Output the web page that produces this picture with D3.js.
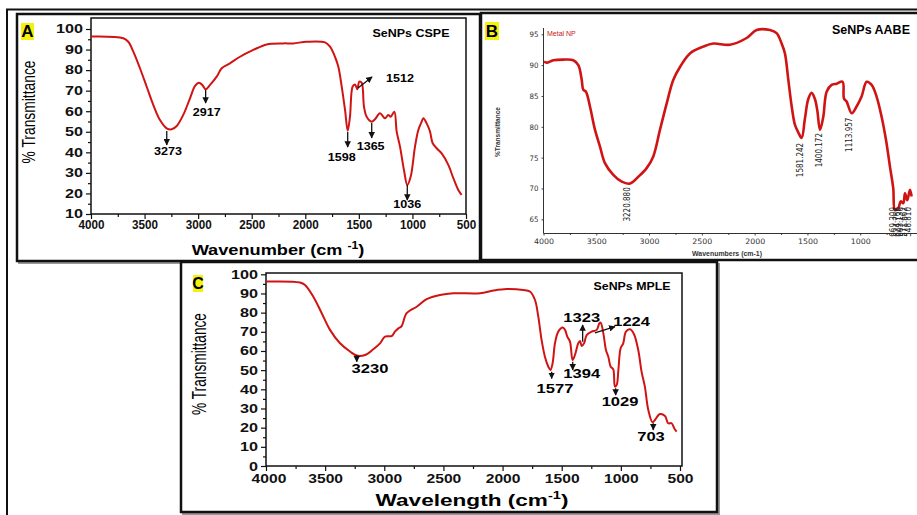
<!DOCTYPE html>
<html>
<head>
<meta charset="utf-8">
<script src="https://cdn.jsdelivr.net/npm/d3@7"></script>
<style>
  body { margin: 0; background: #fff; }
</style>
</head>
<body>
<svg id="fig" width="917" height="515"></svg>
<script>
// ---- panel A : SeNPs CSPE ----
var aWave = [4003,3698,3652,3605,3543,3480,3418,3356,3294,3247,3200,3139,3076,3029,2992,2961,2930,2889,2827,2780,2703,2609,2485,2360,2205,2112,1987,1816,1769,1723,1692,1660,1629,1604,1583,1558,1536,1514,1496,1474,1452,1427,1380,1349,1303,1256,1225,1203,1169,1147,1116,1079,1048,1016,976,945,914,898,867,836,811,774,727,665,618,572,541];
var aTrans = [96.3,95.5,93.8,89,80.9,71.9,63,55.7,51.7,51.2,52.8,58.2,66.3,72.3,73.9,72.8,70.7,72.8,76.8,80.9,83.3,86.5,89.8,92.5,93,93,93.8,93.5,91.4,86.5,81.7,72,60.6,50.5,57.3,72,73,70.7,74.4,73.9,62.2,57.3,54.9,56.1,59,56.6,58.2,57.3,59.8,50.1,42.8,31.4,24.1,28.2,42.8,50.9,54.9,56.6,54.1,50.1,44.4,42,39.5,33.9,27.4,21.7,19.3];
var aYTicks = [10,20,30,40,50,60,70,80,90,100];
// peak label, arrow start (wave, T), arrow end (wave, T), label anchor (wave, T)
var aPeaks = [
  ["3273", 3293, 50.4, 3293, 43.6, 3281, 38.7],
  ["2917", 2930, 70.3, 2930, 64.0, 2920, 57.7],
  ["1598", 1604, 49.9, 1604, 42.6, 1660, 35.8],
  ["1365", 1380, 54.3, 1380, 47.0, 1390, 41.1],
  ["1036", 1048, 24.1, 1048, 16.8, 1048, 12.9],
  ["1512", 1508, 71.3, 1377, 76.7, 1116, 74.2]
];

// ---- panel B : SeNPs AABE ----
var bWave = [3995,3970,3907,3812,3718,3670,3638,3623,3598,3560,3512,3465,3418,3339,3259,3181,3102,3023,2960,2897,2833,2771,2707,2613,2487,2392,2234,2076,1981,1855,1792,1744,1713,1681,1649,1618,1587,1555,1524,1492,1460,1429,1407,1381,1350,1318,1271,1223,1167,1154,1129,1081,1034,987,939,892,845,797,756,718,687,671,639,617,592,576,554,529,513];
var bTrans = [90.6,90.4,90.8,90.9,90.8,90,87.6,86,85.7,83.3,79.5,76.8,74.1,72.2,71.1,70.8,71.9,73.3,75.2,79.5,83.8,87.6,89.7,91.9,93,93.5,93.3,94.4,95.7,95.7,95.2,93.5,91.9,87.6,83.3,80.3,79.1,78.2,81.3,84.5,85.5,84.5,82.7,79.5,81.6,85.7,86.8,87,87.3,84.6,84.1,82.2,83.3,84.9,87.3,86.8,84.9,81.6,77.9,73.5,70,66.5,66.8,67.9,67.6,69.2,68.1,69.8,68.7];
var bYTicks = [65,70,75,80,85,90,95];
// peak label, wave, T at top of label
var bPeaks = [
  ["3220.880", 3210, 70.2],
  ["1581.242", 1575, 77.4],
  ["1400.172", 1392, 79.0],
  ["1113.957", 1103, 81.5],
  ["669.309", 690, 67.0],
  ["624.766", 655, 67.0],
  ["603.136", 620, 67.0],
  ["571.662", 585, 67.0],
  ["548.810", 552, 67.0]
];

// ---- panel C : SeNPs MPLE ----
var cWave = [4000,3713,3670,3600,3529,3459,3374,3290,3233,3163,3093,3036,2994,2938,2910,2881,2853,2811,2726,2642,2529,2416,2191,2078,1965,1825,1769,1726,1698,1670,1642,1613,1595,1577,1557,1529,1492,1472,1453,1430,1408,1388,1360,1345,1331,1311,1289,1247,1204,1182,1171,1148,1126,1106,1086,1064,1050,1035,1021,1002,980,957,923,890,853,825,797,768,732,712,670,627,600,571,549,529];
var cTrans = [96.2,95.7,94.4,88.3,79.7,71,64,59.7,57.6,57.9,60.9,64,67.5,67.8,70.1,71.8,73,79.7,83.1,87,89.2,90.1,90.1,91.5,92.3,91.8,91,86.6,77.9,65.7,57,51.8,50.1,53.6,64,70.1,72.2,71,67.5,64.9,55.3,57.9,64,65.2,62.6,64,68.3,70.1,71,74.4,74.8,69.2,60.5,57,51.8,50.4,41.4,42.3,50.1,61.4,64,70.1,71.3,68.9,60.5,49.2,41.4,29.2,22.8,24,27.1,26.1,22.3,22.3,19.7,17.9];
var cYTicks = [0,10,20,30,40,50,60,70,80,90,100];
var cPeaks = [
  ["3230", 3233, 57.9, 3233, 54.4, 3121, 48.5],
  ["1577", 1585, 49.2, 1585, 45.7, 1557, 38.0],
  ["1394", 1407, 54.4, 1407, 50.1, 1331, 45.9],
  ["1323", 1323, 64.8, 1323, 73.6, 1331, 75.1],
  ["1224", 1219, 69.5, 1050, 72.7, 909, 73.0],
  ["1029", 1044, 40.5, 1044, 37.0, 1007, 31.3],
  ["703", 726, 22.3, 726, 18.8, 745, 13.0]
];

var xTicks = [4000,3500,3000,2500,2000,1500,1000,500];
var xMinor = [3750,3250,2750,2250,1750,1250,750];

var svg = d3.select("#fig");
var FONT = "Liberation Sans, Arial, sans-serif";
var RED = "#d01414";

svg.append("defs").append("marker")
    .attr("id","arrow").attr("viewBox","0 0 10 10")
    .attr("refX",9).attr("refY",5)
    .attr("markerWidth",5).attr("markerHeight",5)
    .attr("orient","auto")
  .append("path").attr("d","M0,0L10,5L0,10z").attr("fill","#111");

// text with horizontal stretch to a target width
function label(p, x, y, str, o){
    var g = p.append("g").attr("transform","translate("+x+","+y+")"+(o.rot?" rotate("+o.rot+")":""));
    var t = g.append("text")
        .attr("text-anchor", o.anchor || "middle")
        .attr("font-family", o.font || FONT)
        .attr("font-size", o.size)
        .attr("font-weight", o.bold ? "bold" : "normal")
        .attr("fill", o.fill || "#000");
    if (Array.isArray(str)) {
        str.forEach(function(s){
            var ts = t.append("tspan").text(s[0]);
            if (s[1]) ts.attr("dy", s[1]);
            if (s[2]) ts.attr("font-size", s[2]);
        });
    } else t.text(str);
    if (o.w) {
        var n = t.node().getComputedTextLength();
        t.attr("transform","scale("+(o.w/n)+",1)");
    }
    return t;
}

function squeeze(axisG, perChar){
    axisG.selectAll("text").each(function(){
        var t = d3.select(this);
        var n = this.getComputedTextLength();
        var s = perChar * t.text().length / n;
        t.attr("x", (+t.attr("x") || 0) / s).attr("transform","scale("+s+",1)");
    });
}

function tag(x, y, w, h, letter, size){
    svg.append("rect").attr("x",x).attr("y",y).attr("width",w).attr("height",h).attr("fill","#f4f20c");
    label(svg, x + w/2, y + h - 3, letter, {size:size, bold:true});
}

function curve(p, xs, ys, wv, tr, width){
    var pts = d3.zip(wv, tr);
    p.append("path").datum(pts)
        .attr("fill","none").attr("stroke",RED).attr("stroke-width",width)
        .attr("stroke-linejoin","round")
        .attr("d", d3.line().x(function(d){return xs(d[0]);}).y(function(d){return ys(d[1]);})
            .curve(d3.curveCatmullRom.alpha(0.5)));
}

function arrows(p, xs, ys, peaks, o){
    peaks.forEach(function(k){
        p.append("line")
            .attr("x1", xs(k[1])).attr("y1", ys(k[2]))
            .attr("x2", xs(k[3])).attr("y2", ys(k[4]))
            .attr("stroke", o.color || "#111").attr("stroke-width", 1.3)
            .attr("marker-end","url(#arrow)");
        label(p, xs(k[5]), ys(k[6]), k[0], {size:o.size, bold:true, w:o.cw * k[0].length});
    });
}

// ---- frames ----
svg.append("rect").attr("x",7).attr("y",9.5).attr("width",1000).attr("height",1000)
    .attr("fill","none").attr("stroke","#111").attr("stroke-width",2);
svg.append("rect").attr("x",19).attr("y",16).attr("width",463).attr("height",247)
    .attr("fill","none").attr("stroke","#999").attr("stroke-width",2);
svg.append("rect").attr("x",17).attr("y",14).attr("width",463).attr("height",247)
    .attr("fill","#fff").attr("stroke","#111").attr("stroke-width",2.5);
svg.append("rect").attr("x",481).attr("y",13).attr("width",500).attr("height",247)
    .attr("fill","#fff").attr("stroke","#111").attr("stroke-width",2.5);
svg.append("rect").attr("x",183).attr("y",264).attr("width",536).attr("height",250)
    .attr("fill","none").attr("stroke","#999").attr("stroke-width",2);
svg.append("rect").attr("x",181).attr("y",262).attr("width",536).attr("height",250)
    .attr("fill","#fff").attr("stroke","#111").attr("stroke-width",2.5);

// ================= panel A =================
(function(){
    var g = svg.append("g");
    var x = d3.scaleLinear().domain([4000,500]).range([91,466]);
    var y = d3.scaleLinear().domain([10,100]).range([214,29]);

    var xa = g.append("g").attr("transform","translate(0,214)")
        .call(d3.axisBottom(x).tickValues(xTicks).tickSize(5).tickPadding(1).tickFormat(d3.format("d")));
    g.append("g").attr("transform","translate(0,214)")
        .call(d3.axisBottom(x).tickValues(xMinor).tickSize(3).tickFormat(""));
    var ya = g.append("g").attr("transform","translate(91,0)")
        .call(d3.axisLeft(y).tickValues(aYTicks).tickSize(5).tickPadding(3));
    g.append("g").attr("transform","translate(91,0)")
        .call(d3.axisLeft(y).tickValues(d3.range(15,100,10)).tickSize(3).tickFormat(""));
    g.selectAll(".domain").remove();
    g.selectAll(".tick line").attr("stroke","#111").attr("stroke-width",1.2);
    g.selectAll("text").attr("font-family",FONT).attr("font-size",12).attr("font-weight","bold").attr("fill","#111");
    squeeze(xa, 6.5);
    squeeze(ya, 9);

    g.append("rect").attr("x",91).attr("y",18).attr("width",375).attr("height",196)
        .attr("fill","none").attr("stroke","#111").attr("stroke-width",1.5);

    curve(g, x, y, aWave, aTrans, 2);
    arrows(g, x, y, aPeaks, {size:11, cw:7});

    label(g, 411, 37, "SeNPs CSPE", {size:11.5, bold:true, w:77});
    label(g, 278, 255, [["Wavenumber (cm "],["-1","-6",10],[")","6"]], {size:15, bold:true, w:173});
    label(g, 35, 112, "% Transmittance", {size:18, rot:-90, w:103});
    tag(21, 23, 13, 17, "A", 17);
})();

// ================= panel B =================
(function(){
    var g = svg.append("g");
    var x = d3.scaleLinear().domain([4000,500]).range([543.5,913]);
    var y = d3.scaleLinear().domain([65,95]).range([219.3,34.3]);

    var xa = g.append("g").attr("transform","translate(0,233.5)")
        .call(d3.axisBottom(x).tickValues(xTicks.slice(0,7)).tickSize(2).tickPadding(3).tickFormat(d3.format("d")));
    g.append("g").attr("transform","translate(0,233.5)")
        .call(d3.axisBottom(x).tickValues(xMinor).tickSize(1.5).tickFormat(""));
    var ya = g.append("g").attr("transform","translate(543.5,0)")
        .call(d3.axisLeft(y).tickValues(bYTicks).tickSize(2).tickPadding(3));
    g.selectAll(".domain").remove();
    g.selectAll(".tick line").attr("stroke","#444");
    g.selectAll("text").attr("font-family","DejaVu Sans, sans-serif").attr("font-size",7.5).attr("fill","#333");
    squeeze(xa, 5);
    squeeze(ya, 4.5);

    g.append("line").attr("x1",543.5).attr("x2",543.5).attr("y1",28).attr("y2",233.5)
        .attr("stroke","#333").attr("stroke-width",1);
    g.append("line").attr("x1",543.5).attr("x2",917).attr("y1",233.5).attr("y2",233.5)
        .attr("stroke","#333").attr("stroke-width",1);

    curve(g, x, y, bWave, bTrans, 2.6);

    // vertical peak labels, reading bottom to top, ending just below each peak
    bPeaks.forEach(function(k){
        label(g, x(k[1]) + 3, y(k[2]), k[0], {size:8, rot:-90, anchor:"end", fill:"#222", font:"DejaVu Sans Condensed, DejaVu Sans, sans-serif"});
    });

    label(g, 547, 36, "Metal NP", {size:7, anchor:"start", fill:"#c62020"});
    label(g, 871, 34, "SeNPs AABE", {size:13, bold:true, w:78});
    label(g, 727, 256, "Wavenumbers (cm-1)", {size:8, bold:true, fill:"#333", w:70});
    label(g, 500, 132, "%Transmittance", {size:7, bold:true, rot:-90, fill:"#333", w:50});
    tag(485, 22, 14, 18, "B", 17);
})();

// ================= panel C =================
(function(){
    var g = svg.append("g");
    var x = d3.scaleLinear().domain([4000,500]).range([266,680]);
    var y = d3.scaleLinear().domain([0,100]).range([466,274.3]);

    var xa = g.append("g").attr("transform","translate(0,466)")
        .call(d3.axisBottom(x).tickValues(xTicks).tickSize(5).tickPadding(3).tickFormat(d3.format("d")));
    g.append("g").attr("transform","translate(0,466)")
        .call(d3.axisBottom(x).tickValues(xMinor).tickSize(3).tickFormat(""));
    var ya = g.append("g").attr("transform","translate(266,0)")
        .call(d3.axisLeft(y).tickValues(cYTicks).tickSize(5).tickPadding(3));
    g.append("g").attr("transform","translate(266,0)")
        .call(d3.axisLeft(y).tickValues(d3.range(5,100,10)).tickSize(3).tickFormat(""));
    g.selectAll(".domain").remove();
    g.selectAll(".tick line").attr("stroke","#111").attr("stroke-width",1.2);
    g.selectAll("text").attr("font-family",FONT).attr("font-size",12.5).attr("font-weight","bold").attr("fill","#111");
    squeeze(xa, 8.7);
    squeeze(ya, 9);
    // first x label sits a little right of its tick, clear of the y "0"
    xa.select(".tick text").attr("dx", 2);

    g.append("rect").attr("x",266).attr("y",273).attr("width",416).attr("height",193)
        .attr("fill","none").attr("stroke","#111").attr("stroke-width",1.5);

    curve(g, x, y, cWave, cTrans, 2);
    arrows(g, x, y, cPeaks, {size:13, cw:9.2});

    label(g, 632, 290, "SeNPs MPLE", {size:11.5, bold:true, w:77});
    label(g, 472, 506, [["Wavelength (cm"],["-1","-7",11],[")","7"]], {size:17, bold:true, w:193});
    label(g, 206, 364, "% Transmittance", {size:20, rot:-90, w:102});
    tag(193, 275, 10, 17, "C", 16);
})();
</script>
</body>
</html>
